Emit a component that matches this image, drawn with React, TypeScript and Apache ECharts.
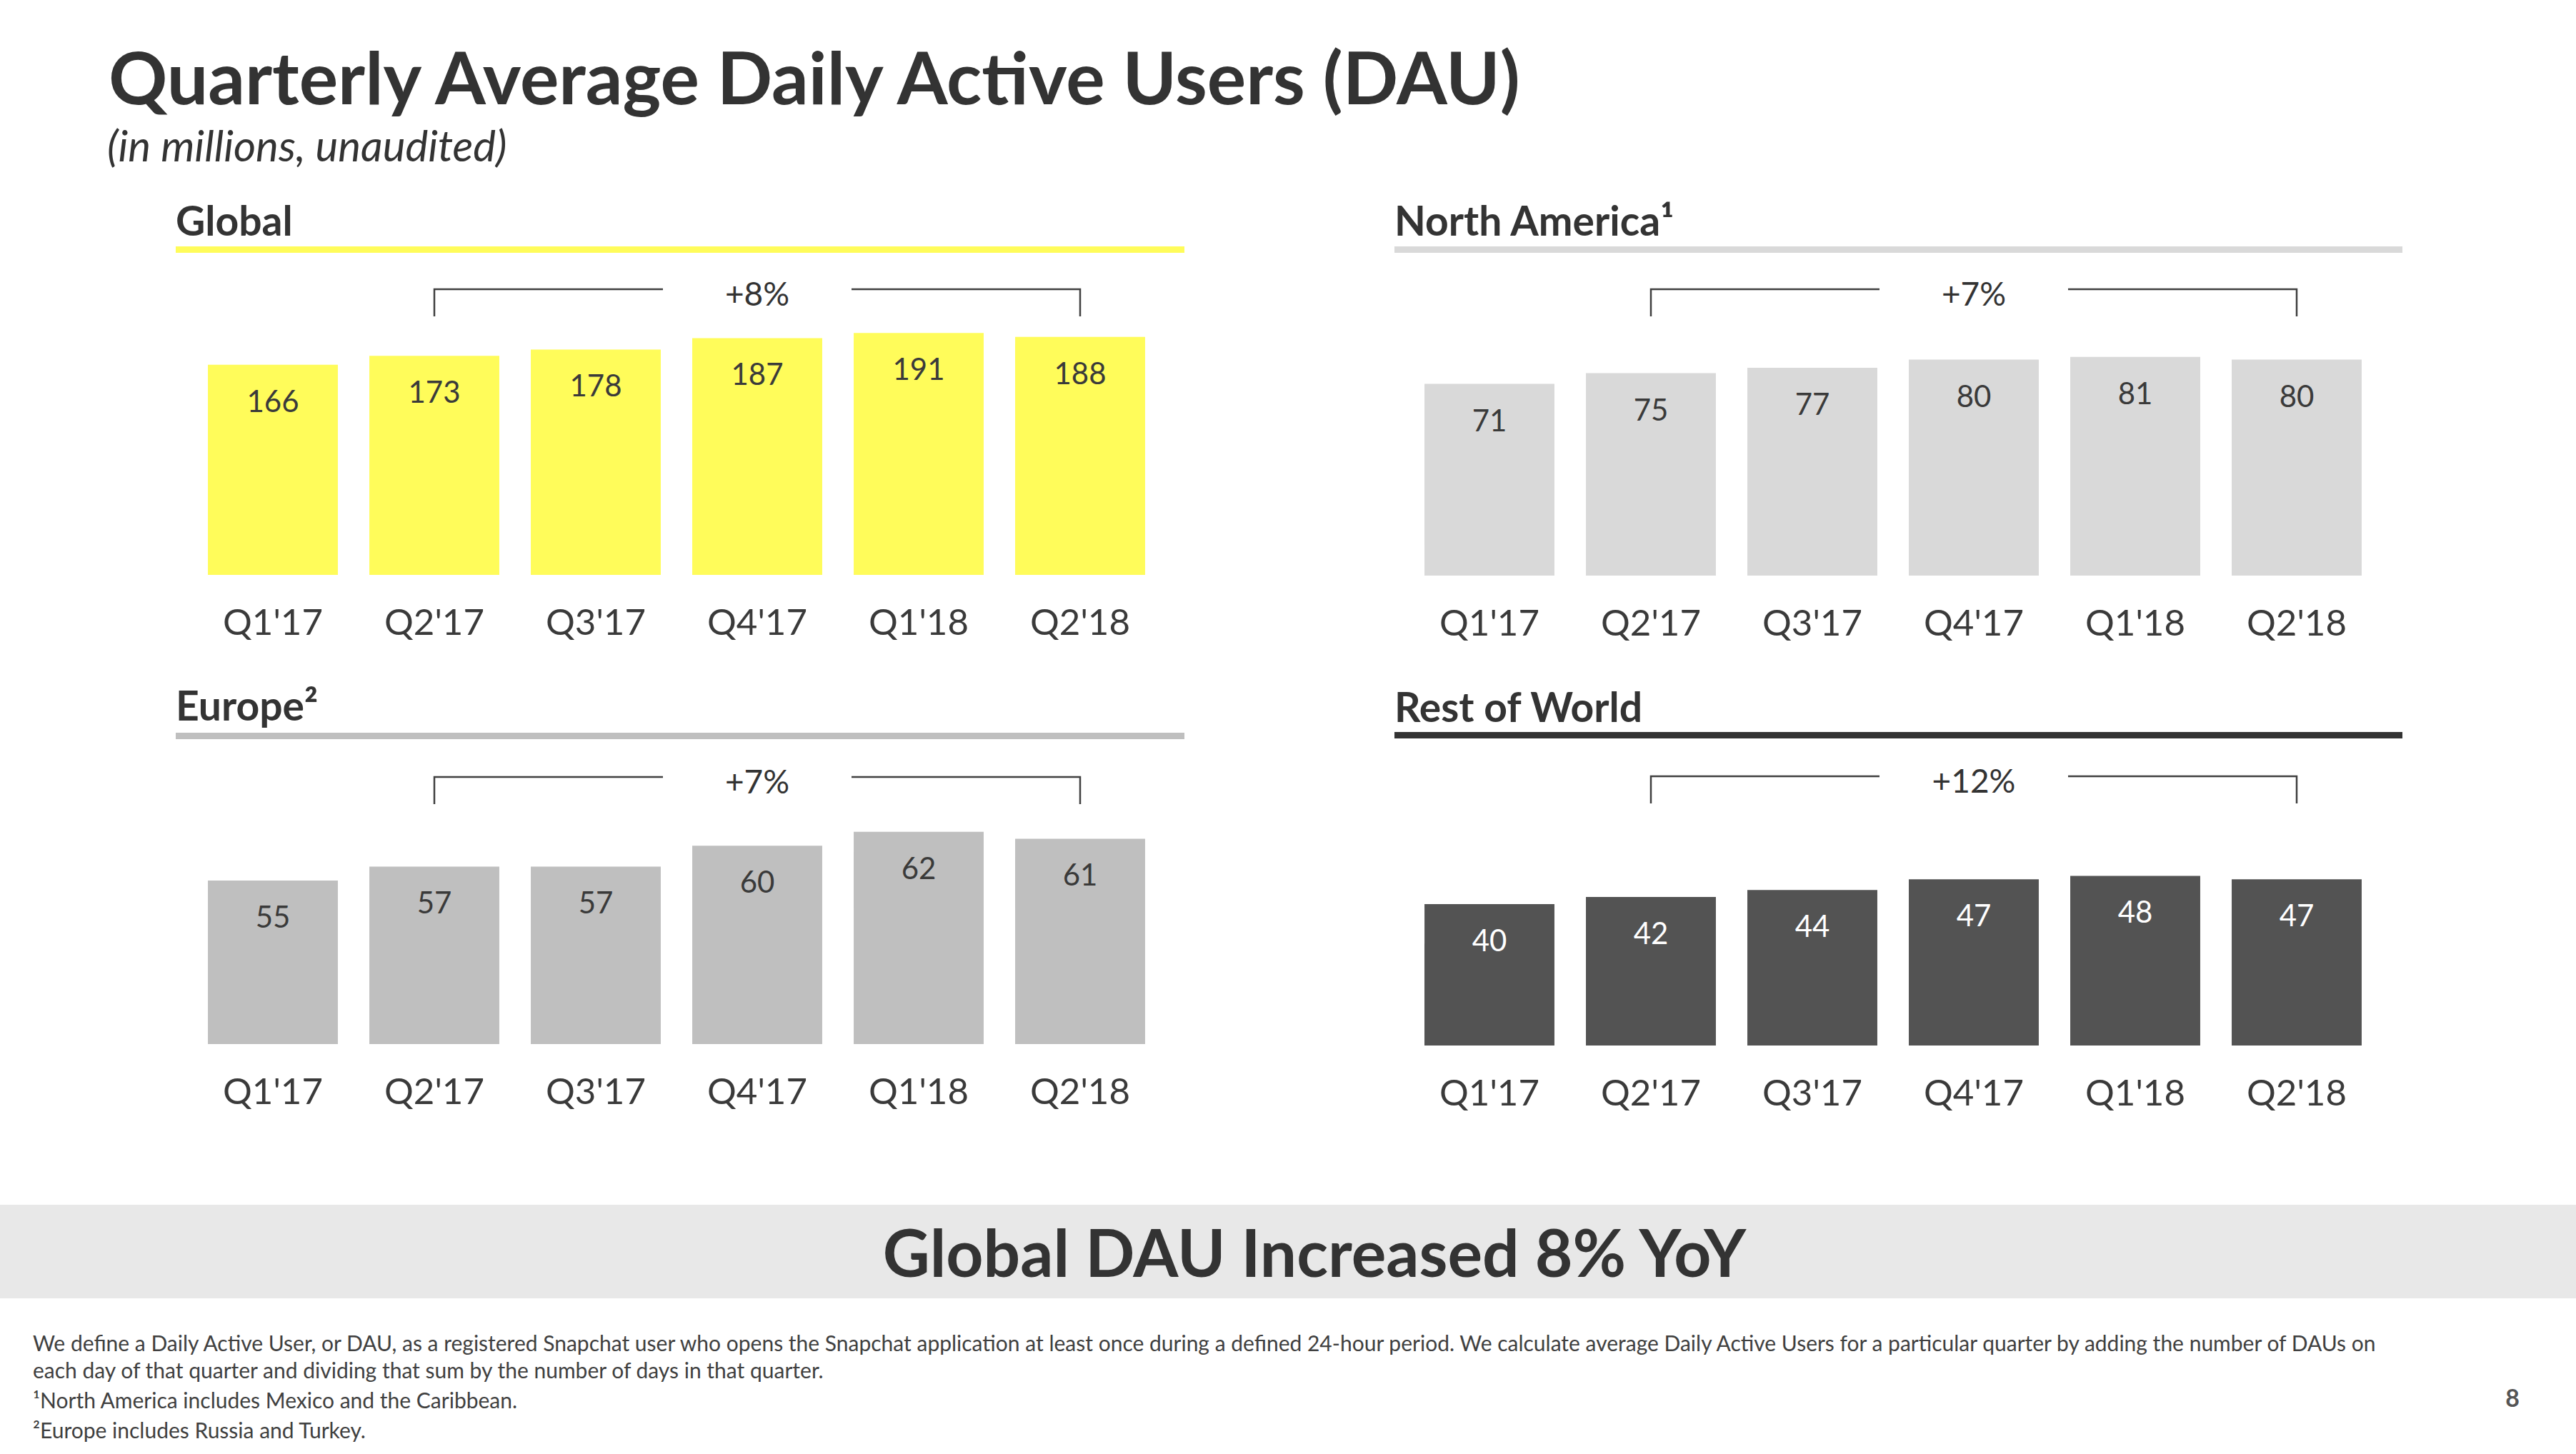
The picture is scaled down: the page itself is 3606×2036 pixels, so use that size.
import React, { useEffect, useRef } from "react";
import * as echarts from "echarts";

// ---------- data ----------
const categories = ["Q1'17", "Q2'17", "Q3'17", "Q4'17", "Q1'18", "Q2'18"];
const globalDAU = [166, 173, 178, 187, 191, 188];
const northAmericaDAU = [71, 75, 77, 80, 81, 80];
const europeDAU = [55, 57, 57, 60, 62, 61];
const restOfWorldDAU = [40, 42, 44, 47, 48, 47];
const panelTitles = ["Global", "North America\u00B9", "Europe\u00B2", "Rest of World"];
const growthLabels = ["+8%", "+7%", "+7%", "+12%"];
const bracketFrom = "Q2'17";
const bracketTo = "Q2'18";

const pageTitle = "Quarterly Average Daily Active Users (DAU)";
const pageSubtitle = "(in millions, unaudited)";
const bannerText = "Global DAU Increased 8% YoY";
const footnotes = [
  "We define a Daily Active User, or DAU, as a registered Snapchat user who opens the Snapchat application at least once during a defined 24-hour period. We calculate average Daily Active Users for a particular quarter by adding the number of DAUs on",
  "each day of that quarter and dividing that sum by the number of days in that quarter.",
  "\u00B9North America includes Mexico and the Caribbean.",
  "\u00B2Europe includes Russia and Turkey.",
];
const pageNumber = "8";

// ---------- layout / style ----------
const W = 3606;
const H = 2036;
const FONT = "Lato, 'Open Sans', sans-serif";
const TEXT = "#333333";
const GRID_W = 1356;

const panels = [
  { data: globalDAU, left: 269, bottom: 805, min: 0, max: 225, ppu: 1.773, bar: "#FFFC5A", label: "#3a3a3a", rule: "#FFFC5A", titleX: 246, titleY: 308, ruleX0: 246, ruleX1: 1658, ruleY: 345, bracketY: 405 },
  { data: northAmericaDAU, left: 1972, bottom: 806, min: 0, max: 105, ppu: 3.78, bar: "#D9D9D9", label: "#3a3a3a", rule: "#D9D9D9", titleX: 1952, titleY: 308, ruleX0: 1952, ruleX1: 3363, ruleY: 345, bracketY: 405 },
  { data: europeDAU, left: 269, bottom: 1462, min: 31.5, max: 72.5, ppu: 9.75, bar: "#BFBFBF", label: "#3a3a3a", rule: "#BFBFBF", titleX: 246, titleY: 987, ruleX0: 246, ruleX1: 1658, ruleY: 1026, bracketY: 1088 },
  { data: restOfWorldDAU, left: 1972, bottom: 1464, min: 0, max: 80, ppu: 4.95, bar: "#535353", label: "#ffffff", rule: "#333333", titleX: 1952, titleY: 989, ruleX0: 1952, ruleX1: 3363, ruleY: 1025, bracketY: 1087 },
];

function txt(text: string, x: number, y: number, size: number, opts: any = {}) {
  return {
    type: "text",
    x,
    y,
    silent: true,
    style: {
      text,
      fontSize: size,
      fontFamily: FONT,
      fontWeight: opts.weight || "normal",
      fontStyle: opts.style || "normal",
      fill: opts.fill || TEXT,
      textAlign: opts.align || "left",
      align: opts.align || "left",
      textVerticalAlign: "middle",
      verticalAlign: "middle",
    },
  };
}

export default function App() {
  const ref = useRef<HTMLDivElement>(null);

  useEffect(() => {
    if (!ref.current) return;
    const chart = echarts.init(ref.current, null, { renderer: "svg", width: W, height: H });

    const grids = panels.map((p) => {
      const h = (p.max - p.min) * p.ppu;
      return {
        left: p.left,
        top: p.bottom - h,
        width: GRID_W,
        height: h,
        containLabel: false,
        outerBoundsMode: "none",
      };
    });

    const xAxes = panels.map((p, i) => ({
      type: "category",
      gridIndex: i,
      data: categories,
      axisLine: { show: false },
      axisTick: { show: false },
      splitLine: { show: false },
      axisLabel: { fontSize: 51, color: "#3a3a3a", margin: 39, fontFamily: FONT, interval: 0 },
    }));

    const yAxes = panels.map((p, i) => ({
      type: "value",
      gridIndex: i,
      min: p.min,
      max: p.max,
      startValue: p.min,
      show: false,
      splitLine: { show: false },
    }));

    const series = panels.map((p, i) => ({
      type: "bar",
      name: panelTitles[i],
      xAxisIndex: i,
      yAxisIndex: i,
      data: p.data,
      barCategoryGap: "19.5%",
      clip: true,
      itemStyle: { color: p.bar },
      label: {
        show: true,
        position: "insideTop",
        distance: 29,
        fontSize: 42,
        lineHeight: 42,
        color: p.label,
        fontFamily: FONT,
      },
      silent: true,
    }));

    chart.setOption({
      animation: false,
      backgroundColor: "#ffffff",
      grid: grids,
      xAxis: xAxes,
      yAxis: yAxes,
      series,
    });

    const graphics: any[] = [];
    // page title
    graphics.push(txt(pageTitle, 152, 106, 102, { weight: "bold" }));
    graphics.push(txt(pageSubtitle, 150, 203, 60, { style: "italic" }));

    // panel titles, rules and growth brackets
    panels.forEach((p, i) => {
      graphics.push(txt(panelTitles[i], p.titleX, p.titleY, 57, { weight: "bold" }));
      graphics.push({
        type: "rect",
        silent: true,
        shape: { x: p.ruleX0, y: p.ruleY, width: p.ruleX1 - p.ruleX0, height: 9 },
        style: { fill: p.rule },
      });
      const xa = chart.convertToPixel({ xAxisIndex: i } as any, categories.indexOf(bracketFrom)) as any;
      const xb = chart.convertToPixel({ xAxisIndex: i } as any, categories.indexOf(bracketTo)) as any;
      const x1 = typeof xa === "number" ? xa : xa[0];
      const x2 = typeof xb === "number" ? xb : xb[0];
      const mid = (x1 + x2) / 2;
      const y = p.bracketY;
      const drop = 38;
      const gap = 132;
      const ls = { stroke: "#404040", lineWidth: 2.5, fill: "none" };
      graphics.push({ type: "polyline", silent: true, shape: { points: [[x1, y + drop], [x1, y], [mid - gap, y]] }, style: ls });
      graphics.push({ type: "polyline", silent: true, shape: { points: [[mid + gap, y], [x2, y], [x2, y + drop]] }, style: ls });
      graphics.push(txt(growthLabels[i], mid, y + 5, 46, { align: "center" }));
    });

    // banner
    graphics.push({ type: "rect", silent: true, z: -1, shape: { x: 0, y: 1687, width: W, height: 131 }, style: { fill: "#E8E8E8" } });
    graphics.push(txt(bannerText, 1840, 1752, 91, { weight: "bold", align: "center" }));

    // footnotes
    const footY = [1880, 1918, 1960, 2002];
    footnotes.forEach((f, i) => graphics.push(txt(f, 46, footY[i], 30, { fill: "#404040" })));
    graphics.push(txt(pageNumber, 3517, 1956, 34, { weight: "bold", fill: "#555555", align: "center" }));

    chart.setOption({ graphic: graphics });

    return () => chart.dispose();
  }, []);

  return (
    <div
      ref={ref}
      style={{ position: "fixed", left: 0, top: 0, width: W, height: H, background: "#ffffff" }}
    />
  );
}
